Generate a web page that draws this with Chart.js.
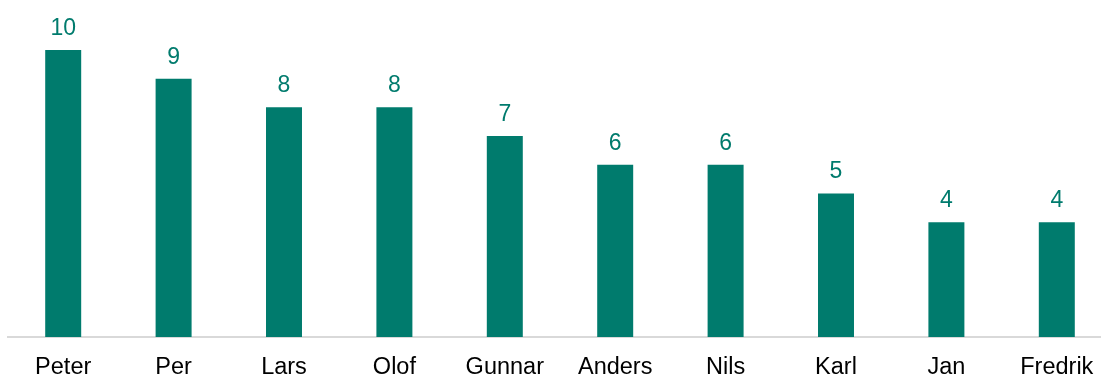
<!DOCTYPE html>
<html>
<head>
<meta charset="utf-8">
<script src="https://cdn.jsdelivr.net/npm/chart.js@4/dist/chart.umd.min.js"></script>
<style>
  html, body { margin: 0; padding: 0; background: #fff; overflow: hidden; }
  #wrap { width: 1112px; height: 376px; }
</style>
</head>
<body>
<div id="wrap"><canvas id="chart"></canvas></div>
<script>
const names = ['Peter', 'Per', 'Lars', 'Olof', 'Gunnar', 'Anders', 'Nils', 'Karl', 'Jan', 'Fredrik'];
const counts = [10, 9, 8, 8, 7, 6, 6, 5, 4, 4];

const teal = '#007B6D';

// writes each bar's value just above it
const valueLabels = {
  id: 'valueLabels',
  afterDatasetsDraw(chart) {
    const ctx = chart.ctx;
    const meta = chart.getDatasetMeta(0);
    ctx.save();
    ctx.fillStyle = teal;
    ctx.font = '23px "Liberation Sans", Arial, sans-serif';
    ctx.textAlign = 'center';
    ctx.textBaseline = 'alphabetic';
    meta.data.forEach((bar, i) => {
      ctx.fillText(String(counts[i]), bar.x, bar.y - 15);
    });
    ctx.restore();
  }
};

new Chart(document.getElementById('chart'), {
  type: 'bar',
  data: {
    labels: names,
    datasets: [{
      data: counts,
      backgroundColor: teal,
      borderWidth: 0,
      barPercentage: 0.326,
      categoryPercentage: 1
    }]
  },
  options: {
    responsive: true,
    maintainAspectRatio: false,
    animation: false,
    layout: { padding: { left: 8, right: 0, top: 0, bottom: 0 } },
    plugins: {
      legend: { display: false },
      tooltip: { enabled: false }
    },
    scales: {
      x: {
        afterFit: (scale) => { scale.height = 39; },
        grid: { display: false, drawTicks: false },
        border: { display: true, color: '#d9d9d9', width: 2 },
        ticks: {
          color: '#000',
          padding: 16,
          maxRotation: 0,
          autoSkip: false,
          font: { family: '"Liberation Sans", Arial, sans-serif', size: 23.5 }
        }
      },
      y: {
        display: false,
        min: 0,
        max: 11.74
      }
    }
  },
  plugins: [valueLabels]
});
</script>
</body>
</html>
